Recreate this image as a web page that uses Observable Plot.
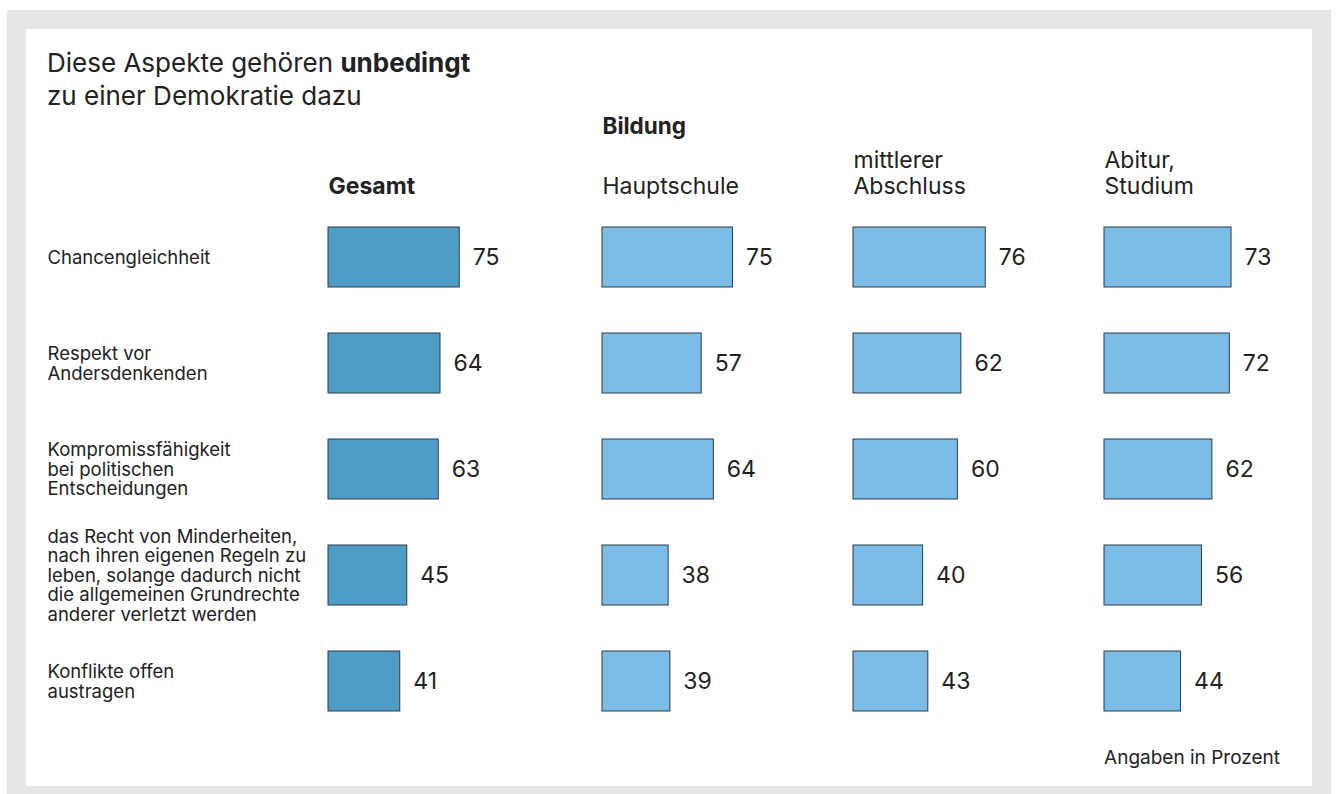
<!DOCTYPE html>
<html>
<head>
<meta charset="utf-8">
<script src="https://cdn.jsdelivr.net/npm/d3@7"></script>
<script src="https://cdn.jsdelivr.net/npm/@observablehq/plot@0.6"></script>
<style>
  html, body { margin: 0; padding: 0; background: #fff; }
  body { width: 1336px; height: 794px; position: relative; overflow: hidden; font-family: "Inter", sans-serif; color: #222; }
  #outer { position: absolute; left: 7px; top: 10px; width: 1324px; height: 784px; background: #e5e6e8; }
  #panel { position: absolute; left: 26px; top: 29px; width: 1286px; height: 757px; background: #fff; }
  #title { position: absolute; left: 47px; top: 46px; font-size: 26px; line-height: 33px; color: #222; }
  #title b { font-weight: 700; }
  #note { position: absolute; right: 56px; top: 748px; font-size: 19px; line-height: 19px; color: #222; }
  #plotA { position: absolute; left: 26px; top: 90px; }
  #plotB { position: absolute; left: 590px; top: 90px; }
  svg text { font-family: "Inter", sans-serif; }
</style>
</head>
<body>
<div id="outer"></div>
<div id="panel"></div>
<div id="title">Diese Aspekte gehören <b>unbedingt</b><br>zu einer Demokratie dazu</div>
<div id="plotA"></div>
<div id="plotB"></div>
<div id="note">Angaben in Prozent</div>
<script>
// ---- data ----
const rows = [
  "Chancengleichheit",
  "Respekt vor\nAndersdenkenden",
  "Kompromissfähigkeit\nbei politischen\nEntscheidungen",
  "das Recht von Minderheiten,\nnach ihren eigenen Regeln zu\nleben, solange dadurch nicht\ndie allgemeinen Grundrechte\nanderer verletzt werden",
  "Konflikte offen\naustragen"
];
const gesamtLabel = "Gesamt";
const bildungLabel = "Bildung";
const groups = ["Hauptschule", "mittlerer\nAbschluss", "Abitur,\nStudium"];
const gesamt = [75, 64, 63, 45, 41];
const hauptschule = [75, 57, 64, 38, 39];
const mittlerer = [76, 62, 60, 40, 43];
const abitur = [73, 72, 62, 56, 44];

// ---- tables ----
const dataA = rows.map((r, i) => ({row: r, value: gesamt[i]}));
const groupValues = [hauptschule, mittlerer, abitur];
const dataB = groups.flatMap((g, gi) => rows.map((r, i) => ({group: g, row: r, value: groupValues[gi][i]})));

const textColor = "#222";
const darkBlue = "#4f9cc7";
const lightBlue = "#7bbde6";
const strokeCol = "#2e3a44";
const rowFont = 18.5;
const headFont = 23;
const valueFont = 23;

const common = {
  height: 670,
  marginTop: 114,
  marginBottom: 26,
  style: {background: "transparent", color: textColor, fontFamily: "Inter, sans-serif"},
  y: {domain: rows, padding: 0, axis: null}
};

const plotA = Plot.plot({
  ...common,
  width: 560,
  marginLeft: 21,
  marginRight: 20,
  x: {domain: [0, 100], range: [302, 477], axis: null},
  marks: [
    Plot.barX(dataA, {x: "value", y: "row", fill: darkBlue, stroke: strokeCol, strokeWidth: 1, insetTop: 23, insetBottom: 23}),
    Plot.text(dataA, {x: "value", y: "row", text: d => String(d.value), textAnchor: "start", dx: 13, fontSize: valueFont, fill: textColor}),
    Plot.text(rows, {y: d => d, text: d => d, frameAnchor: "left", textAnchor: "start", lineAnchor: "middle", lineHeight: 1.06, fontSize: rowFont, fill: textColor}),
    Plot.text([gesamtLabel], {x: 0, text: d => d, frameAnchor: "top", textAnchor: "start", lineAnchor: "bottom", dy: -11, fontSize: headFont, fontWeight: "bold", fill: textColor})
  ]
});
document.getElementById("plotA").append(plotA);

const plotB = Plot.plot({
  ...common,
  width: 722,
  marginLeft: 12,
  marginRight: 31,
  fx: {domain: groups, paddingInner: 77 / 252, paddingOuter: 0, align: 0, axis: null},
  x: {domain: [0, 100], axis: null},
  marks: [
    Plot.barX(dataB, {fx: "group", x: "value", y: "row", fill: lightBlue, stroke: strokeCol, strokeWidth: 1, insetTop: 23, insetBottom: 23}),
    Plot.text(dataB, {fx: "group", x: "value", y: "row", text: d => String(d.value), textAnchor: "start", dx: 13, fontSize: valueFont, fill: textColor}),
    Plot.text(groups, {fx: d => d, text: d => d, frameAnchor: "top-left", textAnchor: "start", lineAnchor: "bottom", lineHeight: 1.1, dy: -11, fontSize: headFont, fill: textColor}),
    Plot.text([bildungLabel], {fx: () => groups[0], text: d => d, frameAnchor: "top-left", textAnchor: "start", lineAnchor: "bottom", dy: -71, fontSize: 22.5, fontWeight: "bold", fill: textColor})
  ]
});
document.getElementById("plotB").append(plotB);
</script>
</body>
</html>
